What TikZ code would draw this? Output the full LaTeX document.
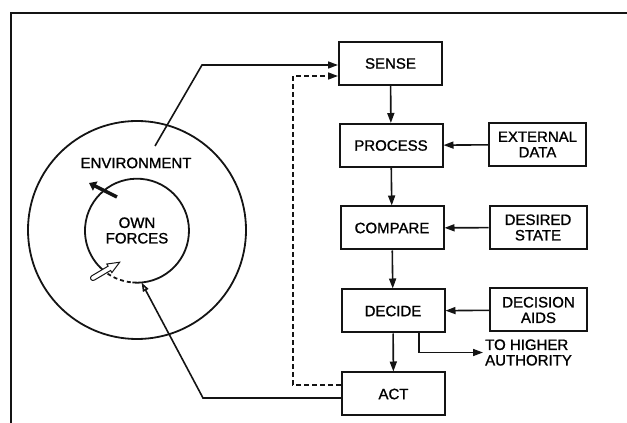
\documentclass[tikz,border=0pt]{standalone}
\usepackage{fontspec}
\setmainfont{Liberation Sans}[BoldFont=Liberation Sans, BoldFeatures={FakeBold=1.2}]
\usetikzlibrary{positioning, arrows.meta, calc, shapes.geometric}
\definecolor{InkColor}{RGB}{20,20,20}
\tikzstyle{stage} = [draw=InkColor, line width=2pt, minimum width=103pt, minimum height=43pt, inner sep=0pt, align=center, font=\fontsize{15}{15.5}\selectfont\bfseries]
\tikzstyle{source} = [stage, minimum width=97pt]
\tikzstyle{textlabel} = [align=center, inner sep=2pt, font=\fontsize{15}{15.5}\selectfont\bfseries]
\tikzstyle{ring} = [circle, draw=InkColor, line width=1.8pt, inner sep=0pt]
\tikzstyle{arrow} = [line width=1.6pt, InkColor, -{Triangle[length=10pt,width=7pt]}]
\tikzstyle{feedback} = [arrow, dash pattern=on 5pt off 3pt]
\tikzstyle{openarrow} = [line width=1.6pt, InkColor, -{Triangle[open,length=9pt,width=6pt]}]
\begin{document}
\begin{tikzpicture}[x=1pt, y=1pt]
                \useasboundingbox (0,0) rectangle (627,423);
                % Frame
                \draw[line width=2pt, InkColor] (11,0) -- (11,410) -- (627,410);

                % Loop stages
                \node[stage] (sense) at (390.5,359.5) {SENSE};
                \node[stage] (process) at (391,277.5) {PROCESS};
                \node[stage] (compare) at (392,195) {COMPARE};
                \node[stage] (decide) at (393,112) {DECIDE};
                \node[stage] (act) at (393.5,29) {ACT};

                % Inputs
                \node[source] (extdata) at (537.5,278.5) {EXTERNAL\\DATA};
                \node[source] (desired) at (538,195.5) {DESIRED\\STATE};
                \node[source] (aids) at (538.5,113) {DECISION\\AIDS};
                \node[textlabel, anchor=west, align=left] (higher) at (483,70.5) {TO HIGHER\\AUTHORITY};

                % Environment and own forces
                \node[ring, minimum size=218pt] (env) at (137,193) {};
                \node[circle, minimum size=104pt, inner sep=0pt, align=center,
                      font=\fontsize{15}{15.5}\selectfont\bfseries] (own) at (137,192.5) {OWN\\FORCES};
                \draw[line width=1.8pt, InkColor] (own.265) arc[start angle=265, end angle=588, radius=52pt];
                \draw[line width=1.8pt, InkColor, dash pattern=on 4pt off 3pt] (own.228) arc[start angle=228, end angle=265, radius=52pt];
                \node[textlabel] (envlabel) at (136,260) {ENVIRONMENT};

                % Own forces acting out / being acted on
                \draw[line width=3.5pt, InkColor, -{Triangle[length=7pt,width=10pt]}] (117,226) -- (89,240);
                \begin{scope}[shift={(93,145)}, rotate=30.6]
                    \draw[line width=1pt, InkColor, fill=white] (0,-2.5) -- (19,-2.5) -- (19,-5) -- (31,0)
                        -- (19,5) -- (19,2.5) -- (0,2.5) arc[start angle=90, end angle=270, radius=2.5pt] -- cycle;
                \end{scope}

                % Main chain
                \draw[arrow] (sense) -- (process);
                \draw[arrow] (process) -- (compare);
                \draw[arrow] (compare) -- (decide);
                \draw[arrow] (decide) -- (act);
                \draw[arrow] (extdata) -- (process);
                \draw[arrow] (desired) -- (compare);
                \draw[arrow] (aids) -- (decide);
                \draw[arrow] ($(decide.south)!0.5!(decide.south east)$) |- (higher.west);

                % Sensing the environment
                \coordinate (envpt) at (155,277);
                \coordinate (envbend) at (202,358);
                \draw[arrow] (envpt) -- (envbend) -- (envbend -| sense.west);

                % Feedback from act
                \coordinate (fbk) at (293,347);
                \draw[feedback] ([yshift=9pt]act.west) -| (fbk) -- (fbk -| sense.west);

                % Act on own forces
                \coordinate (ownbend) at (203,25);
                \draw[openarrow] ([yshift=-4pt]act.west) -- (ownbend) -- (own.-85);
\end{tikzpicture}
\end{document}
